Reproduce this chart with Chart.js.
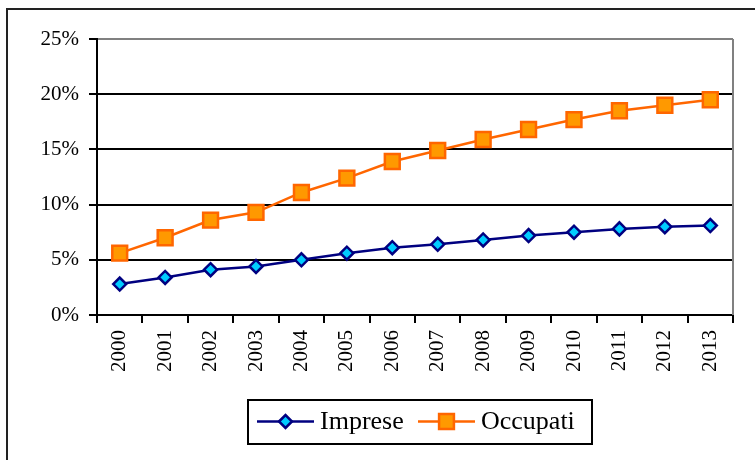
<!DOCTYPE html>
<html>
<head>
<meta charset="utf-8">
<script src="https://cdn.jsdelivr.net/npm/chart.js@4"></script>
<style>
  body { margin: 0; background: #fff; }
  #wrap { width: 755px; height: 460px; }
</style>
</head>
<body>
<div id="wrap"><canvas id="chart" width="755" height="460"></canvas></div>
<script>
// --- Data ---
const years = ['2000', '2001', '2002', '2003', '2004', '2005', '2006',
               '2007', '2008', '2009', '2010', '2011', '2012', '2013'];
const impreseValues = [2.8, 3.4, 4.1, 4.4, 5.0, 5.6, 6.1, 6.4, 6.8, 7.2, 7.5, 7.8, 8.0, 8.1];
const occupatiValues = [5.6, 7.0, 8.6, 9.3, 11.1, 12.4, 13.9, 14.9, 15.9, 16.8, 17.7, 18.5, 19.0, 19.5];
const yTicks = [0, 5, 10, 15, 20, 25];

const serif = 'Liberation Serif, Times New Roman, serif';

// outer frame + gray right border of plot area
const framePlugin = {
    id: 'frame',
    beforeDraw(chart) {
        const c = chart.ctx;
        c.save();
        c.strokeStyle = '#222';
        c.lineWidth = 2;
        c.strokeRect(7, 9, 820, 520);
        c.restore();
    },
    beforeDatasetsDraw(chart) {
        const a = chart.chartArea;
        const c = chart.ctx;
        c.save();
        c.strokeStyle = '#808080';
        c.lineWidth = 2;
        c.beginPath();
        c.moveTo(a.right, a.top);
        c.lineTo(a.right, a.bottom);
        c.stroke();
        c.restore();
    }
};

// legend: line + marker per series, inside a black box
const boxLegend = {
    id: 'boxLegend',
    afterDraw(chart) {
        const c = chart.ctx;
        const y = 421.5;
        const items = [
            { ds: chart.data.datasets[0], x0: 257, x1: 314, tx: 320 },
            { ds: chart.data.datasets[1], x0: 418, x1: 475, tx: 481 }
        ];
        c.save();
        c.strokeStyle = '#000';
        c.lineWidth = 2;
        c.strokeRect(248, 400, 344, 44);
        items.forEach(it => {
            c.strokeStyle = it.ds.borderColor;
            c.lineWidth = it.ds.borderWidth;
            c.beginPath();
            c.moveTo(it.x0, y);
            c.lineTo(it.x1, y);
            c.stroke();
            c.fillStyle = it.ds.pointBackgroundColor;
            c.strokeStyle = it.ds.pointBorderColor;
            c.lineWidth = it.ds.pointBorderWidth;
            Chart.helpers.drawPoint(c, {
                pointStyle: it.ds.pointStyle,
                radius: it.ds.pointRadius,
                rotation: 0,
                borderWidth: it.ds.pointBorderWidth
            }, (it.x0 + it.x1) / 2, y);
            c.fillStyle = '#000';
            c.font = '26px ' + serif;
            c.textBaseline = 'middle';
            c.textAlign = 'left';
            c.fillText(it.ds.label, it.tx, y + 1);
        });
        c.restore();
    }
};

const ctx = document.getElementById('chart').getContext('2d');
new Chart(ctx, {
    type: 'line',
    data: {
        labels: years,
        datasets: [{
            label: 'Imprese',
            data: impreseValues,
            borderColor: '#000080',
            borderWidth: 2.5,
            pointStyle: 'rectRot',
            pointRadius: 6.5,
            pointBackgroundColor: '#00CCFF',
            pointBorderColor: '#000080',
            pointBorderWidth: 2.5,
            tension: 0
        }, {
            label: 'Occupati',
            data: occupatiValues,
            borderColor: '#FF6600',
            borderWidth: 2.5,
            pointStyle: 'rect',
            pointRadius: 10.5,
            pointBackgroundColor: '#FF9900',
            pointBorderColor: '#FF6600',
            pointBorderWidth: 2.5,
            tension: 0
        }]
    },
    options: {
        responsive: false,
        animation: false,
        devicePixelRatio: 1,
        layout: { padding: { left: 0, top: 39, right: 22, bottom: 0 } },
        plugins: {
            legend: { display: false },
            tooltip: { enabled: false }
        },
        scales: {
            x: {
                offset: true,
                grid: {
                    offset: true,
                    drawOnChartArea: false,
                    drawTicks: true,
                    tickLength: 8,
                    tickColor: '#000',
                    lineWidth: 2
                },
                border: { color: '#000', width: 2 },
                ticks: {
                    color: '#000',
                    font: { family: serif, size: 21 },
                    minRotation: 90,
                    maxRotation: 90,
                    padding: 7,
                    autoSkip: false
                },
                afterFit(scale) { scale.height = 145; }
            },
            y: {
                min: yTicks[0],
                max: yTicks[yTicks.length - 1],
                afterBuildTicks(scale) {
                    scale.ticks = yTicks.map(v => ({ value: v }));
                },
                grid: {
                    color: c => c.tick && c.tick.value === 25 ? '#808080' : '#000',
                    lineWidth: 2,
                    tickLength: 8,
                    tickColor: '#000'
                },
                border: { color: '#000', width: 2 },
                ticks: {
                    color: '#000',
                    font: { family: serif, size: 21 },
                    padding: 10,
                    callback: v => v + '%'
                },
                afterFit(scale) { scale.width = 97; }
            }
        }
    },
    plugins: [framePlugin, boxLegend]
});
</script>
</body>
</html>
